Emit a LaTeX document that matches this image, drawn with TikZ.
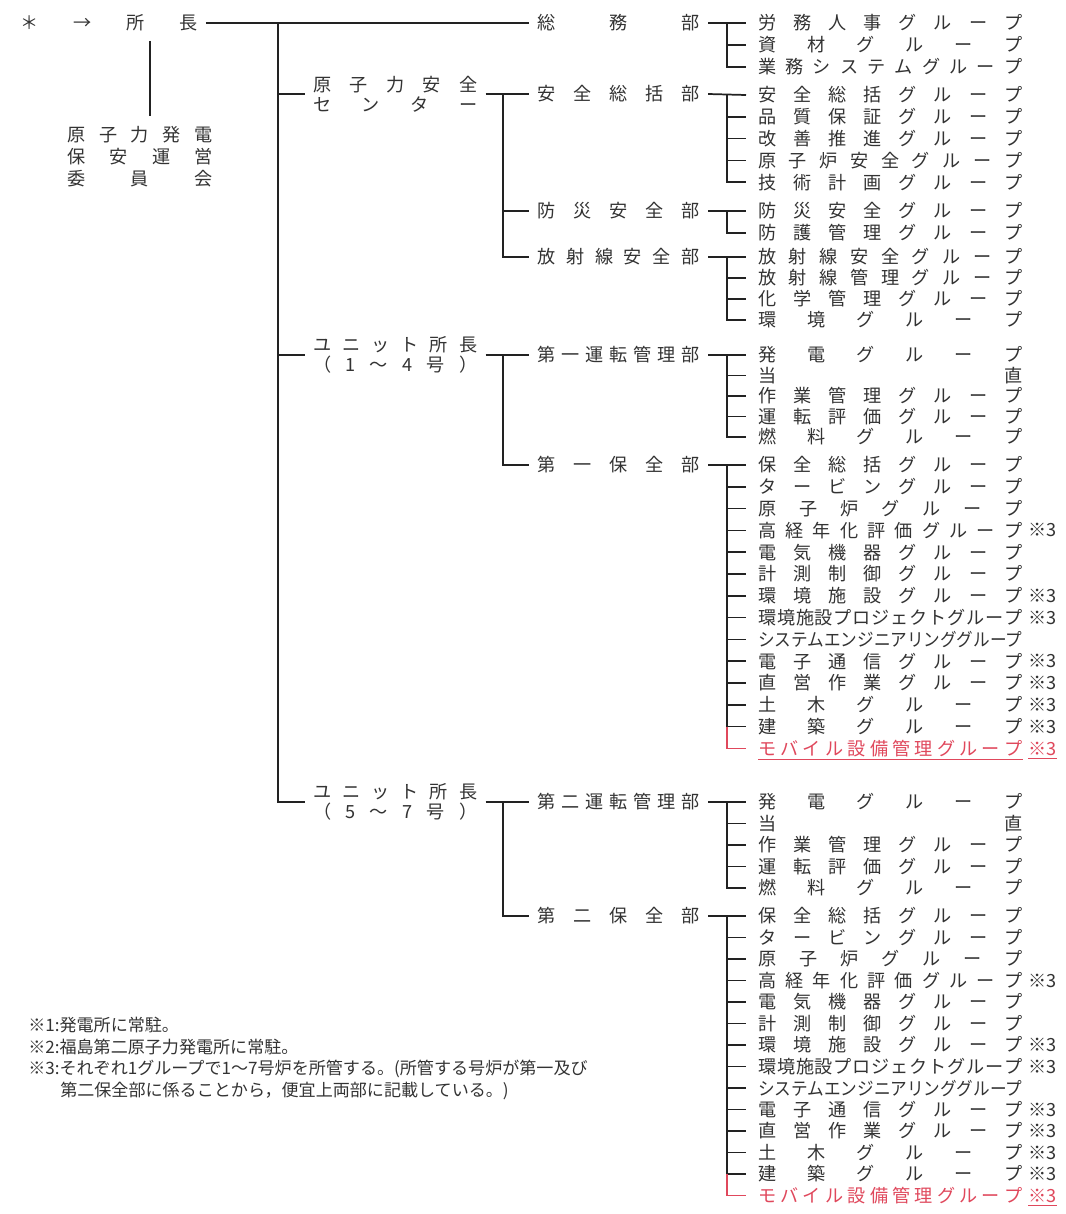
\documentclass[tikz,border=0pt]{standalone}
\usepackage{fontspec}
\setmainfont{Noto Sans CJK JP}
\usepackage{graphicx}
\definecolor{ink}{HTML}{333333}
\definecolor{lineC}{HTML}{222222}
\definecolor{mred}{RGB}{224,72,92}
\newcommand\chartfont{\fontsize{13.6pt}{15pt}\selectfont}
\newcommand\cmtefont{\fontsize{13.6pt}{16.5pt}\selectfont}
\newcommand\notefont{\fontsize{12.8pt}{14pt}\selectfont}
\makeatletter
\def\jst@end{\jst@end}
\newsavebox\jst@box
\newcommand\jst[2]{\edef\jst@tmp{#2}%
  \sbox\jst@box{\jst@tmp}%
  \ifdim\wd\jst@box>#1\relax
    \resizebox{#1}{\height}{\usebox\jst@box}%
  \else
    \hbox to #1{\expandafter\jst@a\jst@tmp\jst@end}%
  \fi}
\def\jst@a#1{\ifx#1\jst@end\else#1\expandafter\jst@b\fi}
\def\jst@b#1{\ifx#1\jst@end\else\hfil#1\expandafter\jst@b\fi}
\makeatother
\tikzset{
  lbl/.style={anchor=west, inner ysep=0pt, text=ink, font=\chartfont},
  grp/.style={lbl, inner xsep=9pt},
  dept/.style={lbl, inner xsep=6pt},
  mid/.style={lbl, inner xsep=6pt, align=left},
  note/.style={lbl, inner xsep=0pt},
  fn/.style={anchor=west, inner sep=0pt, text=ink, font=\notefont},
  conn/.style={draw=lineC, line width=1.3pt},
  redconn/.style={draw=mred, line width=1.3pt},
  uline/.style={draw=mred, line width=0.9pt}
}
\newcommand\grplist[5]{%
  \foreach \gt/\gm [count=\gi] in {#5}{%
    \pgfmathsetmacro\gy{#2+(\gi-1)*#3}%
    \node[grp] (#4-\gi) at (746,\gy) {\jst{198pt}{\gt}};
    \ifnum\gm=1 \node[note] (#4-\gi-n) at (1028,\gy) {※3};\fi
    \ifnum\gi=1 \draw[conn] (#1.east) -- (#4-\gi.west);\else\draw[conn] (#1.east -| gx) |- (#4-\gi.west);\fi
  }}
\begin{document}
\begin{tikzpicture}[x=0.75pt,y=-0.75pt]
\fill[white] (0,0) rectangle (1065,1214);
\useasboundingbox (0,0) rectangle (1065,1214);
\coordinate (mainx) at (278,0);
\coordinate (bx2) at (503,0);
\coordinate (gx) at (727,0);
\coordinate (cv) at (150,0);

% top level
\node[lbl, inner xsep=6pt, inner ysep=7pt] (root) at (12,23) {\jst{133pt}{＊→所長}};
\node[lbl, inner xsep=6pt, inner ysep=8pt, align=left, font=\cmtefont] (cmte) at (59,157)
  {\jst{109pt}{原子力発電}\\\jst{109pt}{保安運営}\\\jst{109pt}{委員会}};
\draw[conn] (root.south -| cv) -- (cmte.north -| cv);

% middle level
\node[mid] (center) at (305,94) {\jst{123pt}{原子力安全}\\\jst{123pt}{センター}};
\node[mid] (u1) at (305,355) {\jst{123pt}{ユニット所長}\\\jst{123pt}{（1～4号）}};
\node[mid] (u2) at (305,802) {\jst{123pt}{ユニット所長}\\\jst{123pt}{（5～7号）}};

% departments
\node[dept] (somu) at (529,23) {\jst{122pt}{総務部}};
\node[dept] (anz) at (529,94) {\jst{122pt}{安全総括部}};
\node[dept] (bosai) at (529,211) {\jst{122pt}{防災安全部}};
\node[dept] (hosha) at (529,257) {\jst{122pt}{放射線安全部}};
\node[dept] (unt1) at (529,355) {\jst{122pt}{第一運転管理部}};
\node[dept] (hoz1) at (529,465) {\jst{122pt}{第一保全部}};
\node[dept] (unt2) at (529,802) {\jst{122pt}{第二運転管理部}};
\node[dept] (hoz2) at (529,916) {\jst{122pt}{第二保全部}};

% trunk connectors
\draw[conn] (root.east) -- (somu.west);
\draw[conn] (root.east -| mainx) |- (u2.west);
\draw[conn] (center.west -| mainx) -- (center.west);
\draw[conn] (u1.west -| mainx) -- (u1.west);
\draw[conn] (center.east) -- (anz.west);
\draw[conn] (center.east -| bx2) |- (bosai.west);
\draw[conn] (center.east -| bx2) |- (hosha.west);
\draw[conn] (u1.east) -- (unt1.west);
\draw[conn] (u1.east -| bx2) |- (hoz1.west);
\draw[conn] (u2.east) -- (unt2.west);
\draw[conn] (u2.east -| bx2) |- (hoz2.west);

% groups
\grplist{somu}{23}{22}{gs}{労務人事グループ/0,資材グループ/0,業務システムグループ/0}
\grplist{anz}{95}{21.8}{ga}{安全総括グループ/0,品質保証グループ/0,改善推進グループ/0,原子炉安全グループ/0,技術計画グループ/0}
\grplist{bosai}{211}{22}{gb}{防災安全グループ/0,防護管理グループ/0}
\grplist{hosha}{257}{21}{gh}{放射線安全グループ/0,放射線管理グループ/0,化学管理グループ/0,環境グループ/0}
\grplist{unt1}{355}{20.5}{gu}{発電グループ/0,当直/0,作業管理グループ/0,運転評価グループ/0,燃料グループ/0}
\grplist{hoz1}{465}{21.8}{gk}{保全総括グループ/0,タービングループ/0,原子炉グループ/0,高経年化評価グループ/1,電気機器グループ/0,計測制御グループ/0,環境施設グループ/1,環境施設プロジェクトグループ/1,システムエンジニアリンググループ/0,電子通信グループ/1,直営作業グループ/1,土木グループ/1,建築グループ/1}
\node[grp, text=mred] (gk-14) at (746,748.4) {\jst{198pt}{モバイル設備管理グループ}};
\node[note, text=mred] (gk-14-n) at (1028,748.4) {※3};
\draw[redconn] (gk-13.west -| gx) |- (gk-14.west);
\draw[uline] ([xshift=9pt,yshift=-2pt]gk-14.south west) -- ([xshift=-9pt,yshift=-2pt]gk-14.south east);
\draw[uline] ([yshift=-2pt]gk-14-n.south west) -- ([yshift=-2pt]gk-14-n.south east);

\grplist{unt2}{802}{21.5}{gv}{発電グループ/0,当直/0,作業管理グループ/0,運転評価グループ/0,燃料グループ/0}
\grplist{hoz2}{916}{21.5}{gm}{保全総括グループ/0,タービングループ/0,原子炉グループ/0,高経年化評価グループ/1,電気機器グループ/0,計測制御グループ/0,環境施設グループ/1,環境施設プロジェクトグループ/1,システムエンジニアリンググループ/0,電子通信グループ/1,直営作業グループ/1,土木グループ/1,建築グループ/1}
\node[grp, text=mred] (gm-14) at (746,1195.5) {\jst{198pt}{モバイル設備管理グループ}};
\node[note, text=mred] (gm-14-n) at (1028,1195.5) {※3};
\draw[redconn] (gm-13.west -| gx) |- (gm-14.west);
\draw[uline] ([yshift=-2pt]gm-14-n.south west) -- ([yshift=-2pt]gm-14-n.south east);

% footnotes
\node[fn] (f1) at (28,1025) {※1:発電所に常駐。};
\node[fn] (f2) at (28,1047) {※2:福島第二原子力発電所に常駐。};
\node[fn] (f3) at (28,1069) {※3:それぞれ1グループで1～7号炉を所管する。(所管する号炉が第一及び};
\node[fn] (f4) at (60,1091) {第二保全部に係ることから，便宜上両部に記載している。)};
\end{tikzpicture}
\end{document}
